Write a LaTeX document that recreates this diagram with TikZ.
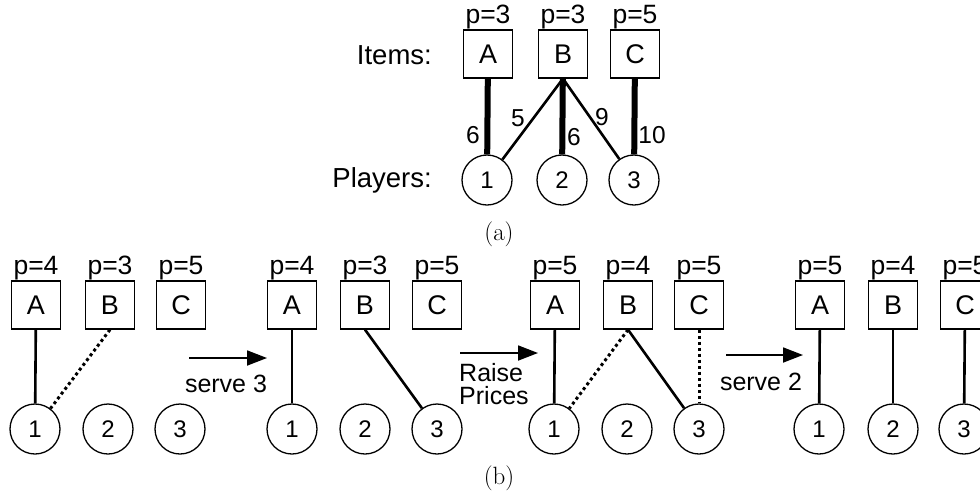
\documentclass[tikz,border=0pt]{standalone}
\usepackage{fontspec}
\newfontfamily\arialf{Liberation Sans}
\usetikzlibrary{arrows.meta}
\tikzset{
  itembox/.style={draw,line width=1.3pt,minimum width=49pt,minimum height=48pt,inner sep=0pt,font=\arialf\fontsize{27}{30}\selectfont},
  player/.style={draw,circle,line width=1.3pt,minimum size=50pt,inner sep=0pt,font=\arialf\fontsize{24}{26}\selectfont},
  price/.style={anchor=south,inner sep=0pt,font=\arialf\fontsize{26.5}{28}\selectfont},
  rowlabel/.style={anchor=east,inner sep=0pt,font=\arialf\fontsize{27.5}{30}\selectfont},
  wlabel/.style={inner sep=0pt,font=\arialf\fontsize{24.5}{26}\selectfont},
  steplabel/.style={inner sep=0pt,font=\arialf\fontsize{25}{23}\selectfont},
  sublabel/.style={inner sep=0pt,font=\fontsize{25}{28}\selectfont},
  thin edge/.style={line width=2.6pt},
  thick edge/.style={line width=6pt},
  dot edge/.style={line width=3pt,dash pattern=on 3pt off 3pt},
  stepar/.style={line width=1.8pt,-{Triangle[length=20pt,width=15pt]}}
}
\begin{document}
\begin{tikzpicture}[x=1pt,y=-1pt]
\useasboundingbox (0,0) rectangle (980,499);
\clip (0,0) rectangle (980,499);
% ---------- (a)
\node[itembox] (aA) at (488,54) {A};
\node[itembox] (aB) at (563,54) {B};
\node[itembox] (aC) at (635,54) {C};
\node[player] (a1) at (487,180) {1};
\node[player] (a2) at (562,180) {2};
\node[player] (a3) at (634,180) {3};
\node[price] (apA) at (aA.north) {p=3};
\node[price] (apB) at (aB.north) {p=3};
\node[price] (apC) at (aC.north) {p=5};
\node[rowlabel] (items) at (432,55) {Items:};
\node[rowlabel] (players) at (432,180) {Players:};
\draw[thick edge] (aA) -- (a1);
\draw[thin edge] (aB.south) -- (a1);
\draw[thick edge] (aB) -- (a2);
\draw[thin edge] (aB.south) -- (a3);
\draw[thick edge] (aC) -- (a3);
\node[wlabel] (w1) at (473,135) {6};
\node[wlabel] (w2) at (518,118) {5};
\node[wlabel] (w3) at (574,137) {6};
\node[wlabel] (w4) at (602,117) {9};
\node[wlabel] (w5) at (652,135) {10};
\node[sublabel] (suba) at (499,234) {(a)};
% ---------- (b) panel 1
\node[itembox] (pA) at (36,305) {A};
\node[itembox] (pB) at (110,305) {B};
\node[itembox] (pC) at (181,305) {C};
\node[player] (p1) at (35,429) {1};
\node[player] (p2) at (108,429) {2};
\node[player] (p3) at (180,429) {3};
\node[price] (ppA) at (pA.north) {p=4};
\node[price] (ppB) at (pB.north) {p=3};
\node[price] (ppC) at (pC.north) {p=5};
\draw[thin edge] (pA) -- (p1);
\draw[dot edge] (pB.south) -- (p1);
% panel 2
\node[itembox] (qA) at (292,305) {A};
\node[itembox] (qB) at (365,305) {B};
\node[itembox] (qC) at (437,305) {C};
\node[player] (q1) at (292,429) {1};
\node[player] (q2) at (365,429) {2};
\node[player] (q3) at (437,429) {3};
\node[price] (qpA) at (qA.north) {p=4};
\node[price] (qpB) at (qB.north) {p=3};
\node[price] (qpC) at (qC.north) {p=5};
\draw[thin edge] (qA) -- (q1);
\draw[thin edge] (qB.south) -- (q3);
% panel 3
\node[itembox] (rA) at (555,305) {A};
\node[itembox] (rB) at (628,305) {B};
\node[itembox] (rC) at (699,305) {C};
\node[player] (r1) at (554,429) {1};
\node[player] (r2) at (627,429) {2};
\node[player] (r3) at (699,429) {3};
\node[price] (rpA) at (rA.north) {p=5};
\node[price] (rpB) at (rB.north) {p=4};
\node[price] (rpC) at (rC.north) {p=5};
\draw[thin edge] (rA) -- (r1);
\draw[dot edge] (rB.south) -- (r1);
\draw[thin edge] (rB.south) -- (r3);
\draw[dot edge] (rC) -- (r3);
% panel 4
\node[itembox] (sA) at (820,305) {A};
\node[itembox] (sB) at (893,305) {B};
\node[itembox] (sC) at (965,305) {C};
\node[player] (s1) at (819,429) {1};
\node[player] (s2) at (893,429) {2};
\node[player] (s3) at (964,429) {3};
\node[price] (spA) at (sA.north) {p=5};
\node[price] (spB) at (sB.north) {p=4};
\node[price] (spC) at (sC.north) {p=5};
\draw[thin edge] (sA) -- (s1);
\draw[thin edge] (sB) -- (s2);
\draw[thin edge] (sC) -- (s3);
% arrows
\coordinate (ar1s) at (189,358); \coordinate (ar1e) at (267,358);
\draw[stepar] (ar1s) -- (ar1e);
\node[steplabel] (serve3) at (226,384) {serve 3};
\coordinate (ar2s) at (460,353); \coordinate (ar2e) at (538,353);
\draw[stepar] (ar2s) -- (ar2e);
\node[steplabel,anchor=west,align=left] (raise) at (459,384) {Raise\\Prices};
\coordinate (ar3s) at (726,355); \coordinate (ar3e) at (803,355);
\draw[stepar] (ar3s) -- (ar3e);
\node[steplabel] (serve2) at (761,382) {serve 2};
\node[sublabel] (subb) at (499,478) {(b)};
\end{tikzpicture}
\end{document}
